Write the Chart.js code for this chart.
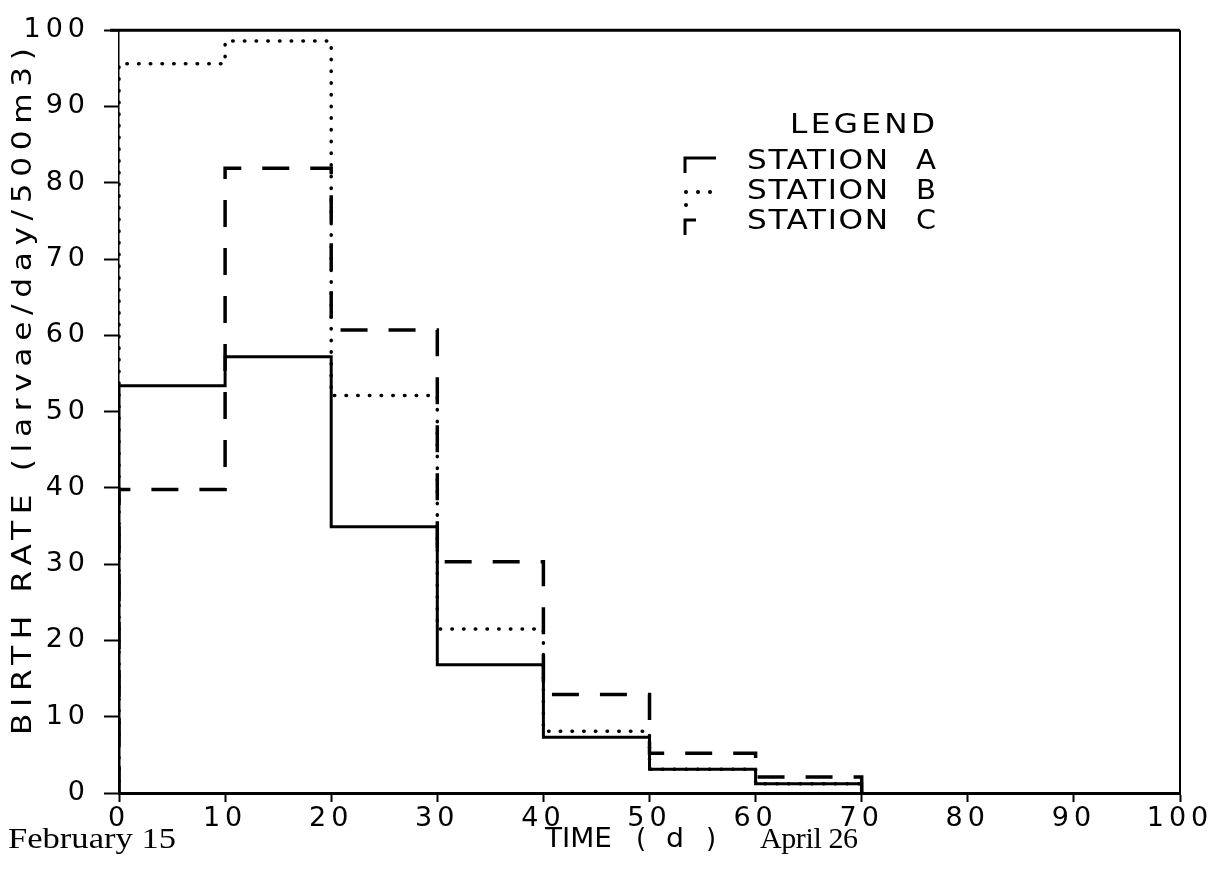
<!DOCTYPE html>
<html>
<head>
<meta charset="utf-8">
<script src="https://cdn.jsdelivr.net/npm/chart.js@4.4.0/dist/chart.umd.min.js"></script>
<style>
    body { margin: 0; background: #fff; }
    #wrap { width: 1228px; height: 881px; }
</style>
</head>
<body>
<div id="wrap"><canvas id="birthChart" width="1228" height="881"></canvas></div>
<script>
// step edges (days) and birth rate per interval
const timeEdges = [0, 10, 20, 30, 40, 50, 60, 70];
const stationA = [53.4, 57.2, 34.9, 16.8, 7.3, 3.1, 1.2];
const stationB = [95.6, 98.6, 52.1, 21.5, 8.1, 3.1, 1.2];
const stationC = [39.8, 81.9, 60.7, 30.3, 12.9, 5.2, 2.1];

const xTickValues = [0, 10, 20, 30, 40, 50, 60, 70, 80, 90, 100];
const yTickValues = [0, 10, 20, 30, 40, 50, 60, 70, 80, 90, 100];

const yTitle = 'BIRTH RATE (larvae/day/500m3)';
const legendTitle = 'LEGEND';
const legendNames = ['STATION', 'STATION', 'STATION'];
const legendLetters = ['A', 'B', 'C'];

const LETTER_FONT = '26px "DejaVu Sans"';

function stepPoints(values) {
    const pts = [{ x: timeEdges[0], y: 0 }];
    values.forEach((v, i) => pts.push({ x: timeEdges[i], y: v }));
    pts.push({ x: timeEdges[timeEdges.length - 1], y: 0 });
    return pts;
}

// draw text widened (a bit of stretch, rest as spacing) to span left..right
function fitText(ctx, text, left, right, y) {
    ctx.letterSpacing = '0px';
    const w0 = ctx.measureText(text).width;
    const target = right - left;
    const sx = Math.max(1, Math.min(1.2, target / w0));
    const gap = text.length > 1 ? (target / sx - w0) / (text.length - 1) : 0;
    ctx.save();
    ctx.translate(left, y);
    ctx.scale(sx, 1);
    ctx.letterSpacing = gap + 'px';
    ctx.textAlign = 'left';
    ctx.fillText(text, 0, 0);
    ctx.restore();
}

const spacedTicks = {
    id: 'spacedTicks',
    beforeDraw(chart) {
        chart.ctx.letterSpacing = '5px';
    },
    afterDraw(chart) {
        chart.ctx.letterSpacing = '0px';
    }
};

const decorations = {
    id: 'decorations',
    afterDraw(chart) {
        const ctx = chart.ctx;
        const area = chart.chartArea;
        ctx.save();
        ctx.strokeStyle = '#000';
        ctx.fillStyle = '#000';
        ctx.setLineDash([]);

        // top and right frame
        ctx.lineWidth = 3;
        ctx.beginPath();
        ctx.moveTo(area.left - 9, area.top);
        ctx.lineTo(area.right, area.top);
        ctx.stroke();
        ctx.lineWidth = 2;
        ctx.beginPath();
        ctx.moveTo(area.right, area.top);
        ctx.lineTo(area.right, area.bottom);
        ctx.stroke();

        // y axis title
        ctx.font = LETTER_FONT;
        ctx.textBaseline = 'middle';
        ctx.save();
        ctx.translate(24, 0);
        ctx.rotate(-Math.PI / 2);
        fitText(ctx, yTitle, -735, -48, 0);
        ctx.restore();

        // legend
        fitText(ctx, legendTitle, 790, 935, 126);
        const rowY = [162, 192, 222];
        rowY.forEach((y, i) => {
            fitText(ctx, legendNames[i], 747, 888, y);
            fitText(ctx, legendLetters[i], 916, 936, y);
        });
        ctx.lineWidth = 3;
        ctx.lineCap = 'butt';
        // station A symbol
        ctx.beginPath();
        ctx.moveTo(685, rowY[0] + 11);
        ctx.lineTo(685, rowY[0] - 4);
        ctx.lineTo(716, rowY[0] - 4);
        ctx.stroke();
        // station B symbol
        [[686, rowY[1]], [698, rowY[1]], [710, rowY[1]], [686, rowY[1] + 13]].forEach(p => {
            ctx.beginPath();
            ctx.arc(p[0], p[1], 2, 0, Math.PI * 2);
            ctx.fill();
        });
        // station C symbol
        ctx.beginPath();
        ctx.moveTo(685, rowY[2] + 13);
        ctx.lineTo(685, rowY[2] - 2);
        ctx.lineTo(696, rowY[2] - 2);
        ctx.stroke();

        // x axis title and dates
        const by = 840;
        ctx.font = LETTER_FONT;
        fitText(ctx, 'TIME', 545, 612, by);
        fitText(ctx, '(', 636, 646, by);
        fitText(ctx, 'd', 666, 684, by);
        fitText(ctx, ')', 706, 716, by);
        ctx.font = '30px "Liberation Serif"';
        fitText(ctx, 'February 15', 8, 176, by);
        fitText(ctx, 'April 26', 760, 858, by);
        ctx.restore();
    }
};

const ctx = document.getElementById('birthChart').getContext('2d');

new Chart(ctx, {
    type: 'line',
    data: {
        datasets: [
            {
                label: 'STATION A',
                data: stepPoints(stationA),
                stepped: true,
                borderColor: '#000',
                borderWidth: 3,
                pointRadius: 0,
                fill: false
            },
            {
                label: 'STATION B',
                data: stepPoints(stationB),
                stepped: true,
                borderColor: '#000',
                borderWidth: 3.5,
                borderDash: [0.5, 11.2],
                borderCapStyle: 'round',
                pointRadius: 0,
                fill: false
            },
            {
                label: 'STATION C',
                data: stepPoints(stationC),
                stepped: true,
                borderColor: '#000',
                borderWidth: 3.5,
                borderDash: [27, 21],
                pointRadius: 0,
                fill: false
            }
        ]
    },
    options: {
        responsive: false,
        animation: false,
        layout: { padding: { left: 0, top: 27, right: 48, bottom: 0 } },
        plugins: {
            legend: { display: false },
            tooltip: { enabled: false }
        },
        scales: {
            x: {
                type: 'linear',
                min: 0,
                max: 100,
                afterFit: scale => { scale.height = 88; },
                afterBuildTicks: scale => { scale.ticks = xTickValues.map(v => ({ value: v })); },
                grid: { drawOnChartArea: false, drawTicks: true, tickLength: 9, tickWidth: 2, tickColor: '#000' },
                border: { display: true, color: '#000', width: 3 },
                ticks: {
                    color: '#000',
                    padding: 3,
                    maxRotation: 0,
                    font: { family: 'DejaVu Sans', size: 27, lineHeight: 1 }
                }
            },
            y: {
                min: 0,
                max: 100,
                afterFit: scale => { scale.width = 119; },
                afterBuildTicks: scale => { scale.ticks = yTickValues.map(v => ({ value: v })); },
                grid: { drawOnChartArea: false, drawTicks: true, tickLength: 15, tickWidth: 2, tickColor: '#000' },
                border: { display: true, color: '#000', width: 1.5, dash: [12, 5] },
                ticks: {
                    color: '#000',
                    padding: 14,
                    font: { family: 'DejaVu Sans', size: 27 }
                }
            }
        }
    },
    plugins: [spacedTicks, decorations]
});
</script>
</body>
</html>
